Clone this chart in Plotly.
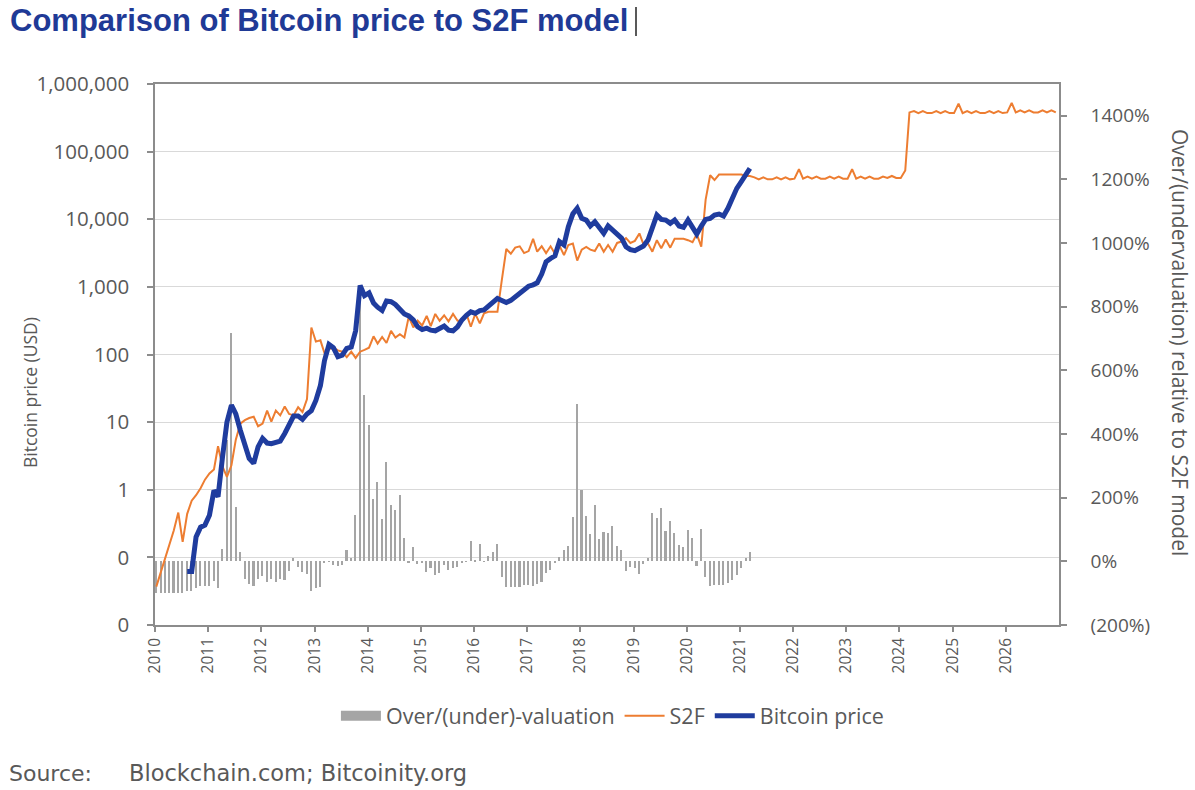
import plotly.graph_objects as go
import pandas as pd

# ---------------- data (monthly, Jan 2010 onward) ----------------
s2f_model = [
    0.037, 0.060, 0.095, 0.15, 0.25, 0.46, 0.17, 0.44, 0.69, 0.83,
    1.05, 1.41, 1.74, 2.0, 4.4, 2.2, 1.55, 2.3, 5.5, 9.5,
    10.7, 11.5, 12.0, 8.7, 9.5, 14.8, 10.2, 14.8, 12.6, 17.0,
    13.2, 12.6, 16.6, 14.1, 21.9, 251, 155, 162, 105, 120,
    126, 115, 110, 91, 110, 89, 110, 117, 126, 186,
    145, 182, 148, 224, 178, 200, 178, 363, 251, 316,
    269, 372, 263, 398, 316, 380, 309, 398, 316, 316,
    398, 257, 398, 288, 407, 427, 427, 427, 1259, 3631,
    3090, 3802, 3981, 3162, 3388, 5129, 3311, 3981, 3162, 3981,
    3090, 4074, 2951, 4169, 4365, 2455, 3548, 3890, 3548, 3388,
    4365, 3311, 4169, 3311, 4467, 4677, 5248, 4467, 4786, 6166,
    4266, 4365, 3311, 4898, 3715, 5012, 3802, 5129, 5129, 5129,
    4898, 4571, 6026, 3926, 19498, 44668, 38019, 45709, 45709, 45709,
    45709, 45709, 45709, 43652, 43652, 41687, 38905, 41687, 38905, 38905,
    41687, 38905, 41687, 38905, 39811, 54954, 39811, 42658, 39811, 42658,
    39811, 39811, 42658, 39811, 42658, 39811, 39811, 54954, 39811, 42658,
    39811, 42658, 39811, 39811, 42658, 40738, 43652, 40738, 40738, 52481,
    380189, 398107, 371535, 398107, 371535, 371535, 398107, 371535, 398107, 371535,
    371535, 512861, 371535, 398107, 371535, 398107, 371535, 371535, 398107, 371535,
    398107, 371535, 380189, 524807, 380189, 407380, 380189, 407380, 380189, 380189,
    407380, 380189, 407380, 380189,
]

btc_price = [
    None, None, None, None, None, None, None,
    0.062, 0.062, 0.20, 0.28, 0.30, 0.42, 0.98, 0.79, 3.1, 10.0, 17.8, 13.2, 7.6,
    4.3, 2.9, 2.45, 4.3, 5.75, 4.9, 4.8, 5.1, 5.25, 6.8,
    9.5, 12.3, 12.3, 11.0, 13.2, 14.8, 20.9, 34.7, 81, 141,
    126, 93, 98, 123, 129, 224, 1047, 741, 813, 575,
    501, 447, 617, 603, 550, 479, 398, 372, 324, 257,
    234, 245, 229, 224, 245, 263, 229, 224, 257, 324,
    380, 427, 407, 447, 457, 513, 575, 676, 631, 589,
    631, 708, 794, 912, 1023, 1072, 1148, 1549, 2344, 2630,
    2884, 4677, 4169, 7762, 12023, 14488, 10304, 9727, 7943, 9204,
    7586, 6180, 7943, 6918, 6324, 5250, 3926, 3548, 3428, 3707,
    4018, 4932, 7762, 11535, 9954, 9727, 8690, 9727, 7943, 7586,
    9727, 7328, 6039, 7943, 9954, 10304, 11535, 11940, 11169, 14488,
    20370, 28640, 35975, 45082, 56624,
]

valuation_pct = [
    -99, -99, -99, -99, -99, -99, -99,
    -93, -92, -84, -76, -78, -76, -62, -83,
    40, 380, 719, 171, 28,
    -54, -72, -78, -54, -45, -66, -54, -64, -54, -60,
    -31, 12, -17, -33, -40, -92, -85, -80, -6, -2,
    -12, -14, -12, 37, 10, 145, 850, 524, 430, 197,
    250, 132, 313, 178, 161, 208, 73, -3, 46, -9,
    -6, -33, -22, -43, -38, -12, -27, -22, -17, -6,
    -2, 65, 2, 53, -2, 18, 30, 54, -50, -82,
    -82, -80, -82, -75, -75, -78, -72, -64, -38, -27,
    -6, 14, 35, 48, 140, 496, 224, 143, 85, 177,
    69, 91, 88, 112, 48, 37, -30, -17, -22, -40,
    -7, 12, 151, 135, 168, 96, 127, 88, 51, 46,
    100, 72, -15, 102, -48, -78, -75, -75, -75, -69,
    -59, -43, -22, 9, 30,
]

year_labels = [str(y) for y in range(2010, 2027)]
price_ticks = [0.01, 0.1, 1, 10, 100, 1000, 10000, 100000, 1000000]
price_tick_text = ["0", "0", "1", "10", "100", "1,000", "10,000", "100,000", "1,000,000"]
pct_ticks = [-200, 0, 200, 400, 600, 800, 1000, 1200, 1400]
pct_tick_text = ["(200%)", "0%", "200%", "400%", "600%", "800%", "1000%", "1200%", "1400%"]

# ---------------- figure ----------------
W, H = 1195, 790
months = pd.date_range("2010-01-01", periods=len(s2f_model), freq="MS") + pd.Timedelta(days=9)
year_dates = [f"{y}-01-01" for y in year_labels]

GRAY_TXT = "#595959"
AX = "#8C8C8C"
BAR = "#A5A5A5"
FONT = "Open Sans"

fig = go.Figure()
# legend proxy for the bars (wide swatch like the original)
fig.add_trace(go.Scatter(
    x=[None], y=[None], yaxis="y", mode="lines",
    line=dict(color=BAR, width=13), name="Over/(under)-valuation",
))
fig.add_trace(go.Bar(
    x=months[:len(valuation_pct)], y=valuation_pct, yaxis="y",
    width=11 * 86400000, marker=dict(color=BAR, line=dict(width=0)),
    name="Over/(under)-valuation", showlegend=False,
))
fig.add_trace(go.Scatter(
    x=months, y=s2f_model, yaxis="y2", mode="lines",
    line=dict(color="#ED7D31", width=2), name="S2F",
))
fig.add_trace(go.Scatter(
    x=months[:len(btc_price)], y=btc_price, yaxis="y2", mode="lines",
    line=dict(color="#1F3C9E", width=5), name="Bitcoin price",
))

fig.update_layout(
    width=W, height=H,
    margin=dict(l=155, r=136, t=84, b=165),
    paper_bgcolor="white", plot_bgcolor="white",
    bargap=0,
    title=dict(
        text="<b>Comparison of Bitcoin price to S2F model</b>",
        font=dict(family="Liberation Sans", size=31, color="#1F3A96"),
        x=10 / W, xanchor="left", xref="container",
        y=1 - 9 / H, yanchor="top", yref="container",
        pad=dict(t=0, b=0, l=0, r=0),
    ),
    xaxis=dict(
        type="date", range=["2010-01-01", "2027-01-01"],
        tickvals=year_dates, ticktext=year_labels, tickangle=-90,
        ticks="outside", ticklen=5, tickcolor=AX, tickwidth=1.5,
        showline=True, linecolor=AX, linewidth=1.5, mirror=True,
        showgrid=False, zeroline=False,
        tickfont=dict(family=FONT, size=15.5, color=GRAY_TXT),
    ),
    yaxis=dict(
        side="right", range=[-200, 1500],
        tickvals=pct_ticks, ticktext=pct_tick_text,
        ticks="outside", ticklen=6, tickcolor=AX, tickwidth=1.5,
        showline=True, linecolor=AX, linewidth=1.5,
        showgrid=False, zeroline=False,
        tickfont=dict(family=FONT, size=19, color=GRAY_TXT),
        ticklabelstandoff=20,
    ),
    yaxis2=dict(
        overlaying="y", side="left", type="log", range=[-2, 6],
        tickvals=price_ticks, ticktext=price_tick_text,
        ticks="outside", ticklen=6, tickcolor=AX, tickwidth=1.5,
        showline=True, linecolor=AX, linewidth=1.5,
        showgrid=True, gridcolor="#D9D9D9", gridwidth=1.2, zeroline=False,
        tickfont=dict(family=FONT, size=20.5, color=GRAY_TXT),
        ticklabelstandoff=14,
    ),
    legend=dict(
        orientation="h", x=0.506, xanchor="center", y=-0.168, yanchor="middle",
        font=dict(family=FONT, size=21.5, color=GRAY_TXT),
        bgcolor="rgba(0,0,0,0)", itemwidth=40,
    ),
    showlegend=True,
)

fig.add_annotation(
    text="Bitcoin price (USD)", textangle=-90, showarrow=False,
    xref="paper", yref="paper", x=(30 - 155) / 904, y=(625 - 393) / 541,
    xanchor="center", yanchor="middle",
    font=dict(family=FONT, size=17.5, color=GRAY_TXT),
)
fig.add_annotation(
    text="Over/(undervaluation) relative to S2F model", textangle=90, showarrow=False,
    xref="paper", yref="paper", x=(1180 - 155) / 904, y=(625 - 342) / 541,
    xanchor="center", yanchor="middle",
    font=dict(family=FONT, size=21, color=GRAY_TXT),
)
fig.add_annotation(
    text="Source:", showarrow=False,
    xref="paper", yref="paper", x=(7 - 155) / 904, y=(625 - 773) / 541,
    xanchor="left", yanchor="middle",
    font=dict(family="DejaVu Sans", size=22, color=GRAY_TXT),
)
fig.add_annotation(
    text="Blockchain.com; Bitcoinity.org", showarrow=False,
    xref="paper", yref="paper", x=(127 - 155) / 904, y=(625 - 773) / 541,
    xanchor="left", yanchor="middle",
    font=dict(family="DejaVu Sans", size=22.5, color=GRAY_TXT),
)
fig.add_shape(
    type="line", xref="paper", yref="paper",
    x0=(636 - 155) / 904, x1=(636 - 155) / 904,
    y0=(625 - 7) / 541, y1=(625 - 36) / 541,
    line=dict(color="#222222", width=1.5),
)

# remove the default page margin so the figure fills the 1195x790 window exactly
fig.write_html(
    "out.html",
    config={"displayModeBar": False},
    post_script="document.body.style.margin='0';document.body.style.overflow='hidden';",
)
